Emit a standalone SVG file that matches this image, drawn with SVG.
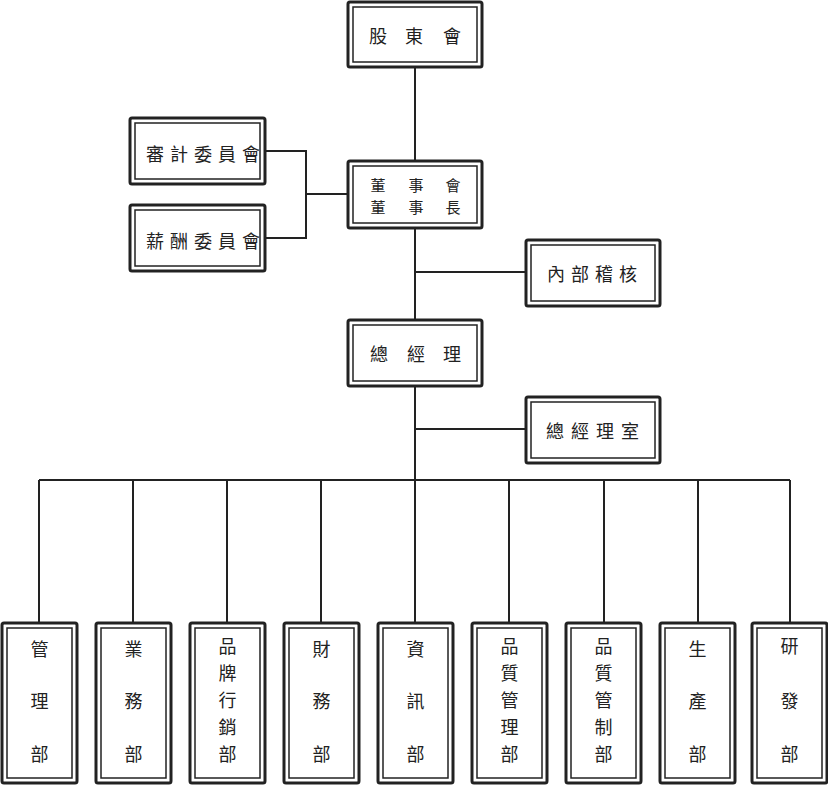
<svg xmlns="http://www.w3.org/2000/svg" width="828" height="785" viewBox="0 0 828 785">
<style>
.o{fill:#fff;stroke:#222;stroke-width:3}
.i{fill:none;stroke:#222;stroke-width:1.5}
.t{font-family:"Noto Sans CJK TC","Noto Sans CJK SC",sans-serif;font-size:18px;fill:#222;text-anchor:middle;dominant-baseline:central}
.s{font-size:15px}
.c{fill:none;stroke:#222;stroke-width:2}
</style>
<rect width="828" height="785" fill="#fff"/>
<g id="connectors">
<path class="c" d="M415 67V319M415 272H526M266 151H306V238H266M306 194H348M415 387V480M415 429H525M39 480H790M39 480V623M133 480V623M227 480V623M321 480V623M415 480V623M509 480V623M604 480V623M698 480V623M790 480V623"/>
</g>
<g id="n_shareholders">
<rect class="o" x="348" y="2" width="134" height="65" rx="2"/><rect class="i" x="353" y="7" width="124" height="55"/>
<text class="t" x="378" y="35">股</text><text class="t" x="414" y="35">東</text><text class="t" x="452" y="35">會</text>
</g>
<g id="n_board">
<rect class="o" x="348" y="161" width="134" height="67" rx="2"/><rect class="i" x="353" y="166" width="124" height="57"/>
<text class="t s" x="378" y="184">董</text><text class="t s" x="416" y="184">事</text><text class="t s" x="453" y="184">會</text>
<text class="t s" x="378" y="206">董</text><text class="t s" x="416" y="206">事</text><text class="t s" x="453" y="206">長</text>
</g>
<g id="n_audit">
<rect class="o" x="130" y="118" width="135" height="66" rx="2"/><rect class="i" x="135" y="123" width="125" height="56"/>
<text class="t" x="155" y="153">審</text><text class="t" x="179" y="153">計</text><text class="t" x="203" y="153">委</text><text class="t" x="227" y="153">員</text><text class="t" x="251" y="153">會</text>
</g>
<g id="n_comp">
<rect class="o" x="130" y="205" width="135" height="66" rx="2"/><rect class="i" x="135" y="210" width="125" height="56"/>
<text class="t" x="155" y="240">薪</text><text class="t" x="179" y="240">酬</text><text class="t" x="203" y="240">委</text><text class="t" x="227" y="240">員</text><text class="t" x="251" y="240">會</text>
</g>
<g id="n_internal">
<rect class="o" x="526" y="240" width="134" height="66" rx="2"/><rect class="i" x="531" y="245" width="124" height="56"/>
<text class="t" x="556" y="273">內</text><text class="t" x="580" y="273">部</text><text class="t" x="604" y="273">稽</text><text class="t" x="628" y="273">核</text>
</g>
<g id="n_gm">
<rect class="o" x="348" y="320" width="134" height="66" rx="2"/><rect class="i" x="353" y="325" width="124" height="56"/>
<text class="t" x="379" y="353">總</text><text class="t" x="416" y="353">經</text><text class="t" x="452" y="353">理</text>
</g>
<g id="n_gmo">
<rect class="o" x="526" y="397" width="134" height="66" rx="2"/><rect class="i" x="531" y="402" width="124" height="56"/>
<text class="t" x="555" y="430">總</text><text class="t" x="580" y="430">經</text><text class="t" x="605" y="430">理</text><text class="t" x="630" y="430">室</text>
</g>
<g id="d1">
<rect class="o" x="2" y="623" width="75" height="160" rx="2"/><rect class="i" x="7" y="628" width="65" height="150"/>
<text class="t" x="39.5" y="648">管</text><text class="t" x="39.5" y="700">理</text><text class="t" x="39.5" y="753">部</text>
</g>
<g id="d2">
<rect class="o" x="96" y="623" width="75" height="160" rx="2"/><rect class="i" x="101" y="628" width="65" height="150"/>
<text class="t" x="133.5" y="648">業</text><text class="t" x="133.5" y="700">務</text><text class="t" x="133.5" y="753">部</text>
</g>
<g id="d3">
<rect class="o" x="190" y="623" width="75" height="160" rx="2"/><rect class="i" x="195" y="628" width="65" height="150"/>
<text class="t" x="227.5" y="645">品</text><text class="t" x="227.5" y="672">牌</text><text class="t" x="227.5" y="699">行</text><text class="t" x="227.5" y="726">銷</text><text class="t" x="227.5" y="753">部</text>
</g>
<g id="d4">
<rect class="o" x="284" y="623" width="75" height="160" rx="2"/><rect class="i" x="289" y="628" width="65" height="150"/>
<text class="t" x="321.5" y="648">財</text><text class="t" x="321.5" y="700">務</text><text class="t" x="321.5" y="753">部</text>
</g>
<g id="d5">
<rect class="o" x="378" y="623" width="75" height="160" rx="2"/><rect class="i" x="383" y="628" width="65" height="150"/>
<text class="t" x="415.5" y="648">資</text><text class="t" x="415.5" y="700">訊</text><text class="t" x="415.5" y="753">部</text>
</g>
<g id="d6">
<rect class="o" x="472" y="623" width="75" height="160" rx="2"/><rect class="i" x="477" y="628" width="65" height="150"/>
<text class="t" x="509.5" y="645">品</text><text class="t" x="509.5" y="672">質</text><text class="t" x="509.5" y="699">管</text><text class="t" x="509.5" y="726">理</text><text class="t" x="509.5" y="753">部</text>
</g>
<g id="d7">
<rect class="o" x="566" y="623" width="75" height="160" rx="2"/><rect class="i" x="571" y="628" width="65" height="150"/>
<text class="t" x="603.5" y="645">品</text><text class="t" x="603.5" y="672">質</text><text class="t" x="603.5" y="699">管</text><text class="t" x="603.5" y="726">制</text><text class="t" x="603.5" y="753">部</text>
</g>
<g id="d8">
<rect class="o" x="660" y="623" width="75" height="160" rx="2"/><rect class="i" x="665" y="628" width="65" height="150"/>
<text class="t" x="697.5" y="648">生</text><text class="t" x="697.5" y="700">產</text><text class="t" x="697.5" y="753">部</text>
</g>
<g id="d9">
<rect class="o" x="752" y="623" width="75" height="160" rx="2"/><rect class="i" x="757" y="628" width="65" height="150"/>
<text class="t" x="789.5" y="645">研</text><text class="t" x="789.5" y="700">發</text><text class="t" x="789.5" y="753">部</text>
</g>
</svg>
